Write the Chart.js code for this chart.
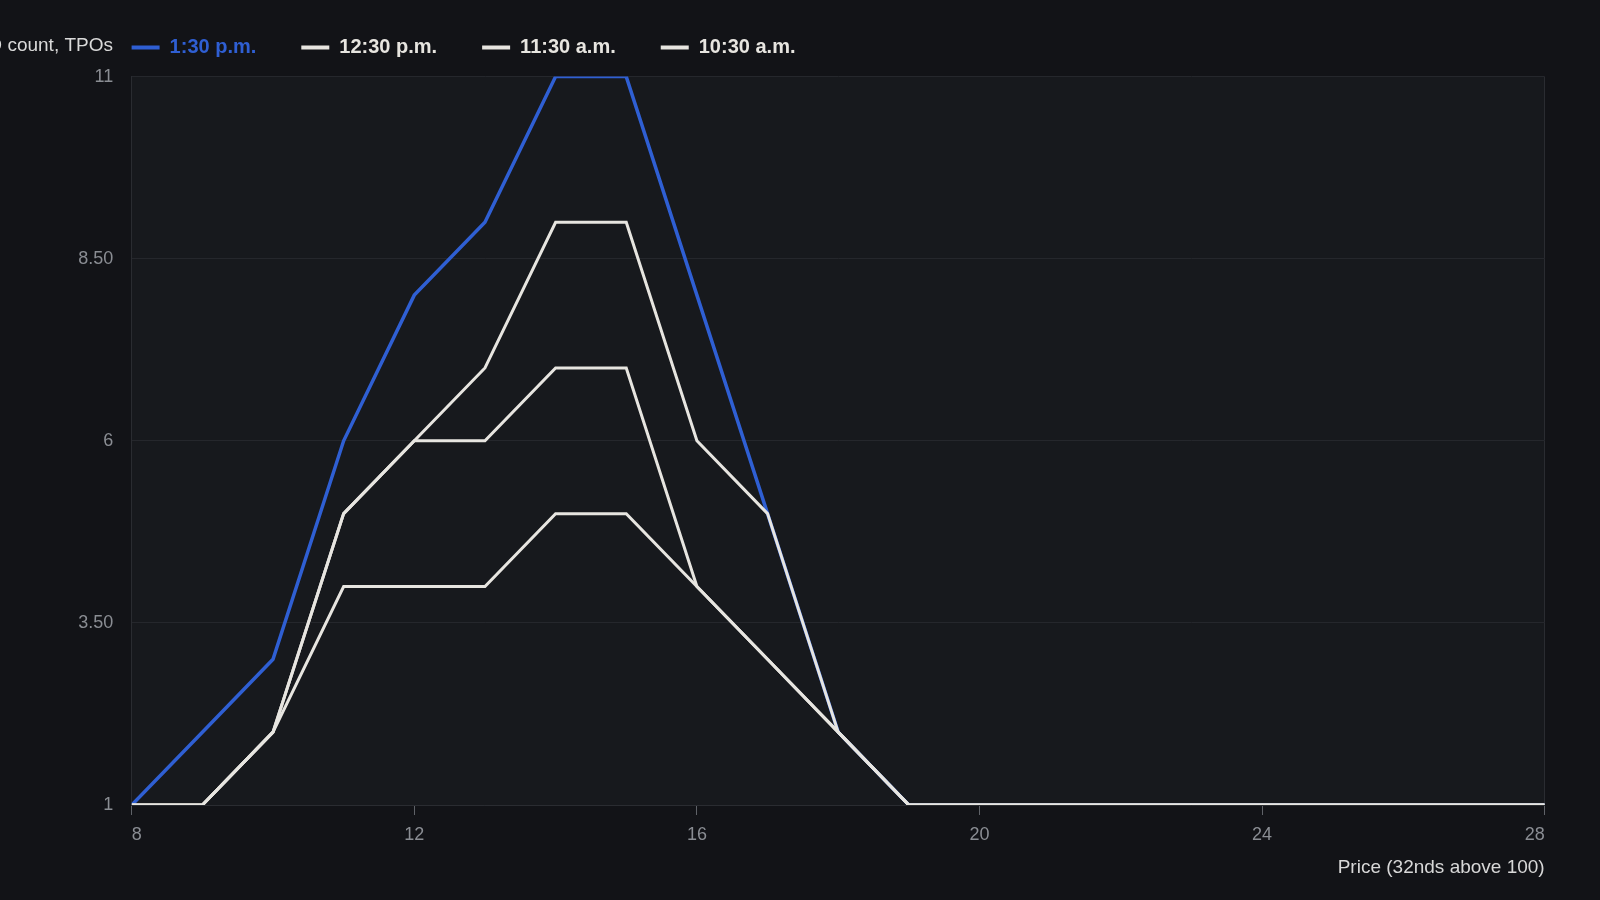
<!DOCTYPE html>
<html>
<head>
<meta charset="utf-8">
<script src="https://cdn.jsdelivr.net/npm/chart.js@4"></script>
<style>
  html, body { margin: 0; padding: 0; background: #121317; }
  #wrap { width: 1600px; height: 900px; }
</style>
</head>
<body>
<div id="wrap"><canvas id="tpoChart" width="1600" height="900"></canvas></div>
<script>
// TPO profile - price in 32nds above 100
const prices  = [8, 9, 10, 11, 12, 13, 14, 15, 16, 17, 18, 19, 20, 21, 22, 23, 24, 25, 26, 27, 28];
const tpo0130 = [1, 2, 3, 6, 8, 9, 11, 11, 8, 5, 2, 1, 1, 1, 1, 1, 1, 1, 1, 1, 1];
const tpo1230 = [1, 1, 2, 5, 6, 7, 9, 9, 6, 5, 2, 1, 1, 1, 1, 1, 1, 1, 1, 1, 1];
const tpo1130 = [1, 1, 2, 5, 6, 6, 7, 7, 4, 3, 2, 1, 1, 1, 1, 1, 1, 1, 1, 1, 1];
const tpo1030 = [1, 1, 2, 4, 4, 4, 5, 5, 4, 3, 2, 1, 1, 1, 1, 1, 1, 1, 1, 1, 1];
const seriesNames = ['10:30 a.m.', '11:30 a.m.', '12:30 p.m.', '1:30 p.m.'];
const yTicks = [1, 3.5, 6, 8.5, 11];
const xTicks = [8, 12, 16, 20, 24, 28];

const BLUE = '#2f5fd3';
const WHITE = '#e7e5e0';
const FONT = "'Liberation Sans', Arial, sans-serif";

function pts(values) {
    return prices.map((p, i) => ({ x: p, y: values[i] }));
}

// plot background + y title drawn at the legend row
const frame = {
    id: 'frame',
    beforeDraw(chart) {
        const { ctx, chartArea: a } = chart;
        ctx.save();
        ctx.fillStyle = '#121317';
        ctx.fillRect(0, 0, chart.width, chart.height);
        ctx.fillStyle = '#17191d';
        ctx.fillRect(a.left, a.top, a.right - a.left, a.bottom - a.top);
        ctx.restore();
    },
    afterDraw(chart) {
        const ctx = chart.ctx;
        ctx.save();
        ctx.font = '19px ' + FONT;
        ctx.fillStyle = '#dadada';
        ctx.textAlign = 'right';
        ctx.textBaseline = 'middle';
        ctx.fillText('TPO count, TPOs', 113, 46);
        ctx.restore();
    }
};

// legend is a single row; keep its box short and nudge it into place
const legendRow = {
    id: 'legendRow',
    beforeLayout(chart) {
        const lg = chart.legend;
        if (!lg || lg._rowPatched) return;
        const fit = lg.fit;
        lg.fit = function () {
            fit.call(this);
            this.height = 76.6;
        };
        lg._rowPatched = true;
    },
    afterLayout(chart) {
        const lg = chart.legend;
        lg.top -= 7.5;
        lg.left += 14.9;
    }
};

const ctx = document.getElementById('tpoChart');
new Chart(ctx, {
    type: 'line',
    data: {
        datasets: [
            { label: seriesNames[0], data: pts(tpo1030), borderColor: WHITE, backgroundColor: WHITE, borderWidth: 3 },
            { label: seriesNames[1], data: pts(tpo1130), borderColor: WHITE, backgroundColor: WHITE, borderWidth: 3 },
            { label: seriesNames[2], data: pts(tpo1230), borderColor: WHITE, backgroundColor: WHITE, borderWidth: 3 },
            { label: seriesNames[3], data: pts(tpo0130), borderColor: BLUE, backgroundColor: BLUE, borderWidth: 3.5 }
        ]
    },
    options: {
        responsive: false,
        animation: false,
        devicePixelRatio: 1,
        layout: { padding: { left: 71.7, right: 55.3, top: 0, bottom: 20.6 } },
        elements: {
            point: { radius: 0, hoverRadius: 0 },
            line: { tension: 0, borderJoinStyle: 'miter', borderCapStyle: 'butt' }
        },
        scales: {
            x: {
                type: 'linear',
                min: 8,
                max: 28,
                afterBuildTicks(scale) { scale.ticks = xTicks.map(v => ({ value: v })); },
                ticks: { color: '#8a8d93', font: { family: FONT, size: 18 }, padding: 9, align: 'inner' },
                grid: {
                    drawOnChartArea: true,
                    color: c => (c.tick && c.tick.value === 28) ? '#2a2c31' : 'rgba(0,0,0,0)',
                    tickColor: '#5f6268',
                    tickLength: 10,
                    lineWidth: 1
                },
                border: { display: true, color: '#2a2c31' },
                title: {
                    display: true,
                    text: 'Price (32nds above 100)',
                    align: 'end',
                    color: '#d8d8d8',
                    font: { family: FONT, size: 19 },
                    padding: { top: 2, bottom: 0 }
                }
            },
            y: {
                min: 1,
                max: 11,
                afterBuildTicks(scale) { scale.ticks = yTicks.map(v => ({ value: v })); },
                afterFit(scale) { scale.width = 60; },
                ticks: {
                    color: '#8a8d93',
                    font: { family: FONT, size: 18 },
                    padding: 18.5,
                    callback: v => (Number.isInteger(v) ? String(v) : v.toFixed(2))
                },
                grid: { color: '#25272c', drawTicks: false, lineWidth: 1 },
                border: { display: true, color: '#2a2c31' }
            }
        },
        plugins: {
            legend: {
                position: 'top',
                align: 'start',
                labels: {
                    boxWidth: 28,
                    boxHeight: 4,
                    padding: 45,
                    font: { family: FONT, size: 20, weight: 'bold' },
                    sort: (a, b) => b.datasetIndex - a.datasetIndex,
                    generateLabels(chart) {
                        return chart.data.datasets.map((ds, i) => ({
                            text: ds.label,
                            fillStyle: ds.borderColor,
                            strokeStyle: ds.borderColor,
                            lineWidth: 0,
                            fontColor: ds.borderColor,
                            hidden: !chart.isDatasetVisible(i),
                            datasetIndex: i
                        }));
                    }
                }
            },
            tooltip: { enabled: false }
        }
    },
    plugins: [frame, legendRow]
});
</script>
</body>
</html>
